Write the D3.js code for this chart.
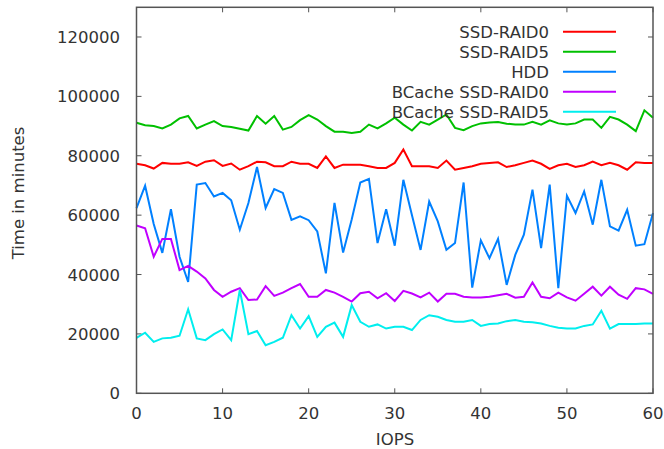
<!DOCTYPE html>
<html><head><meta charset="utf-8">
<script src="https://cdn.jsdelivr.net/npm/d3@7"></script>
<style>
html,body{margin:0;padding:0;background:#fff;}
svg{display:block;font-family:"DejaVu Sans",sans-serif;}
</style></head>
<body>
<svg id="chart" width="664" height="449"></svg>
<script>
const seriesNames = ["SSD-RAID0","SSD-RAID5","HDD","BCache SSD-RAID0","BCache SSD-RAID5"];
const seriesColors = ["#ff0000","#00c000","#0080ff","#c000ff","#00eeee"];
const xTicks = [0,10,20,30,40,50,60];
const yTicks = [0,20000,40000,60000,80000,100000,120000];

const ssdRaid0 = [77300,76800,75700,77600,77300,77300,77800,76600,78000,78500,76600,77400,75300,76500,78000,77800,76500,76500,78000,77300,
  77300,75900,79800,75900,77000,77000,77000,76500,75900,75900,77600,82100,76500,76500,76500,75900,78400,75300,75900,76500,
  77300,77600,77800,76200,76800,77600,78400,77300,75600,76800,77300,76200,76800,78000,76800,77600,76800,75300,77800,77600,77600];
const ssdRaid5 = [91100,90300,90000,89200,90500,92600,93400,89200,90500,91700,90000,89700,89100,88500,93400,90800,93400,88800,89700,92000,
  93700,92200,90000,88100,88100,87700,88100,90500,89200,90900,92800,90500,88500,91400,90500,92200,93900,89400,88600,90000,
  90900,91200,91400,90800,90500,90500,91400,90500,91900,90900,90500,90900,92200,92200,89400,93100,92200,90500,88300,95300,92800];
const hdd = [62400,69900,57000,47300,62000,46000,37500,70300,70800,66300,67500,65000,55100,64100,76200,62400,68800,67500,58400,59600,
  58300,54500,40400,64100,47400,58500,71000,72200,50600,62000,49700,71900,60000,48300,64600,57900,48300,50600,71000,35600,
  51500,45500,52000,36500,46600,53400,68600,48900,70300,35400,66500,60700,68000,56800,71900,56200,54800,61800,49700,50200,60700];
const bcacheRaid0 = [56500,55600,46000,52000,52000,41500,42900,41000,38700,34800,32500,34200,35400,31400,31600,36100,32800,33900,35400,36800,
  32500,32500,34800,33900,32500,30900,33700,34200,32000,33700,31100,34500,33600,32300,33900,30900,33500,33500,32500,32300,
  32300,32500,33000,33500,32200,32500,37300,32500,32000,33900,32300,31200,33500,35900,32900,35900,33200,31800,35400,35000,33500];
const bcacheRaid5 = [18700,20400,17300,18500,18700,19400,28300,18500,17900,19900,21500,17900,34800,19900,21000,16200,17300,18700,26300,21800,
  26000,19000,22400,23800,19000,29700,24100,22400,23200,21800,22400,22400,21300,24700,26300,25800,24700,24100,24100,24700,
  22700,23300,23500,24300,24700,24100,23900,23500,22700,22100,21800,21800,22700,23200,27800,21800,23300,23300,23300,23500,23500];
const allSeries = [ssdRaid0, ssdRaid5, hdd, bcacheRaid0, bcacheRaid5];

const svg = d3.select("#chart");
const L = 136.5, R = 653, T = 7.3, B = 393.3;
const x = d3.scaleLinear().domain([0,60]).range([L,R]);
const y = d3.scaleLinear().domain([0,130000]).range([B,T]);
const textColor = "#333";
const axisColor = "#555";
const fs = "16.5px";
const tk = 5;

// ticks (inside, mirrored)
const g = svg.append("g");
xTicks.forEach(v=>{
  g.append("line").attr("x1",x(v)).attr("x2",x(v)).attr("y1",B).attr("y2",B-tk).attr("stroke",axisColor).attr("stroke-width",1);
  g.append("line").attr("x1",x(v)).attr("x2",x(v)).attr("y1",T).attr("y2",T+tk).attr("stroke",axisColor).attr("stroke-width",1);
  g.append("text").attr("x",x(v)).attr("y",B+26).attr("text-anchor","middle").attr("fill",textColor).style("font-size",fs).text(v);
});
yTicks.forEach(v=>{
  g.append("line").attr("x1",L).attr("x2",L+tk).attr("y1",y(v)).attr("y2",y(v)).attr("stroke",axisColor).attr("stroke-width",1);
  g.append("line").attr("x1",R).attr("x2",R-tk).attr("y1",y(v)).attr("y2",y(v)).attr("stroke",axisColor).attr("stroke-width",1);
  g.append("text").attr("x",120).attr("y",y(v)+6).attr("text-anchor","end").attr("fill",textColor).style("font-size",fs).text(v);
});

// series
const line = d3.line().x((d,i)=>x(i)).y(d=>y(d));
allSeries.forEach((s,k)=>{
  svg.append("path").datum(s).attr("d",line).attr("fill","none")
    .attr("stroke",seriesColors[k]).attr("stroke-width",2).attr("stroke-linejoin","miter");
});

// frame
svg.append("rect").attr("x",L).attr("y",T).attr("width",R-L).attr("height",B-T)
  .attr("fill","none").attr("stroke",axisColor).attr("stroke-width",1.5);

// legend
seriesNames.forEach((n,k)=>{
  const ly = 31.7 + k*20;
  svg.append("text").attr("x",549).attr("y",ly+6).attr("text-anchor","end").attr("fill",textColor).style("font-size",fs).text(n);
  svg.append("line").attr("x1",563).attr("x2",616).attr("y1",ly).attr("y2",ly).attr("stroke",seriesColors[k]).attr("stroke-width",2);
});

// axis labels
svg.append("text").attr("x",395).attr("y",445).attr("text-anchor","middle").attr("fill",textColor).style("font-size",fs).text("IOPS");
svg.append("text").attr("transform","translate(24,193) rotate(-90)").attr("text-anchor","middle").attr("fill",textColor).style("font-size",fs).text("Time in minutes");
</script>
</body></html>
